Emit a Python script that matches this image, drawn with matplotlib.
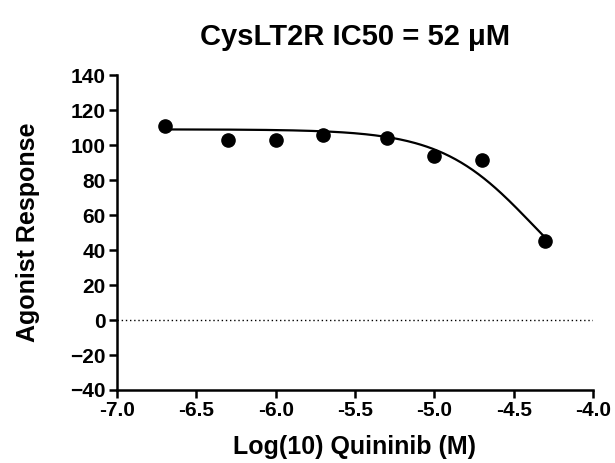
import matplotlib.pyplot as plt
import numpy as np

plt.rcParams['font.family'] = ['Liberation Sans', 'DejaVu Sans']
plt.rcParams['font.weight'] = 'bold'

log_conc = [-6.7, -6.3, -6.0, -5.7, -5.3, -5.0, -4.7, -4.3]
response = [111, 103, 103, 106, 104, 94, 91.5, 45]

# fitted curve parameters (read from the drawn fit)
top = 109
bottom = 0
log_ic50 = -4.38
hill = 1.5

fig = plt.figure(figsize=(6.15, 4.63), dpi=100)
ax = fig.add_axes([0.1902, 0.1577, 0.774, 0.680])

xs = np.linspace(min(log_conc), max(log_conc), 200)
curve = bottom + (top - bottom) / (1 + 10 ** ((xs - log_ic50) * hill))
ax.plot(xs, curve, color='black', lw=1.6)
ax.plot(log_conc, response, 'o', color='black', markersize=9.5)
ax.axhline(0, color='black', lw=1, linestyle=(0, (1, 2)))

ax.set_xlim(-7.0, -4.0)
ax.set_ylim(-40, 140)
ax.set_xticks(np.arange(-7.0, -3.99, 0.5))
ax.set_xticklabels(['-7.0', '-6.5', '-6.0', '-5.5', '-5.0', '-4.5', '-4.0'])
ax.set_yticks(range(-40, 141, 20))

for s in ['top', 'right']:
    ax.spines[s].set_visible(False)
for s in ['left', 'bottom']:
    ax.spines[s].set_linewidth(1.8)
ax.tick_params(width=1.8, length=6, labelsize=15, pad=2)
for lab in ax.get_xticklabels() + ax.get_yticklabels():
    lab.set_fontweight('bold')

ax.set_xlabel('Log(10) Quininib (M)', fontsize=18, fontweight='bold', labelpad=11)
ax.set_ylabel('Agonist Response', fontsize=18, fontweight='bold', labelpad=22)
ax.set_title('CysLT2R IC50 = 52 μM', fontsize=21, fontweight='bold', pad=22)

fig.savefig('out.png', dpi=100)
